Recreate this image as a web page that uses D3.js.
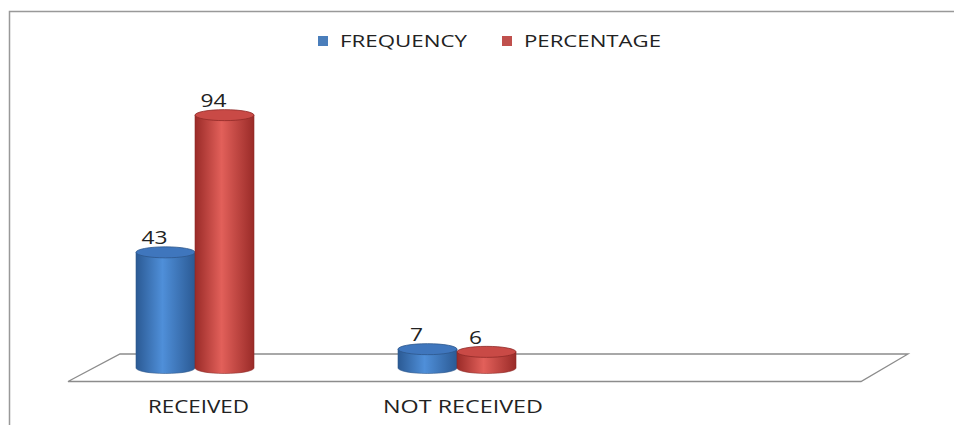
<!DOCTYPE html>
<html><head><meta charset="utf-8">
<script src="https://cdn.jsdelivr.net/npm/d3@7"></script>
<style>body{margin:0;background:#fff}svg{display:block}</style>
</head><body>
<script>
const categories = ["RECEIVED", "NOT RECEIVED"];
const seriesNames = ["FREQUENCY", "PERCENTAGE"];
const frequency = [43, 7];
const percentage = [94, 6];
const seriesValues = [frequency, percentage];

const W = 954, H = 427;
const svg = d3.select("body").append("svg").attr("width", W).attr("height", H);
const defs = svg.append("defs");
const pal = [
  {edge:"#2b5a94", mid:"#4f8fd9", top:"#3f76bd", stroke:"#2d578c"},
  {edge:"#9a2b28", mid:"#e2605a", top:"#c94a46", stroke:"#8f2a27"}
];
pal.forEach((p,i)=>{
  const g = defs.append("linearGradient").attr("id","g"+i).attr("x1","0").attr("x2","1").attr("y1","0").attr("y2","0");
  g.append("stop").attr("offset","0%").attr("stop-color",p.edge);
  g.append("stop").attr("offset","45%").attr("stop-color",p.mid);
  g.append("stop").attr("offset","100%").attr("stop-color",p.edge);
});
const font = "'Open Sans', 'DejaVu Sans', sans-serif";

// border
svg.append("path").attr("d","M9.5,425 V11.5 H954").attr("fill","none").attr("stroke","#999").attr("stroke-width",1.5);

// floor
svg.append("path").attr("d","M120,354 L908,354 L861,381.5 L68,381.5 Z")
  .attr("fill","#fff").attr("stroke","#8c8c8c").attr("stroke-width",1.3);

const x = d3.scaleBand().domain(categories).range([64, 588]);
const xs = d3.scaleBand().domain(seriesNames).range([-59, 59]);
const y = d3.scaleLinear().domain([0, 100]).range([368, 99]);
const ry = 5.5;
const catLabelW = [101, 160];
const catLabelDx = [3.5, 6];

categories.forEach((c, ci) => {
  seriesNames.forEach((s, si) => {
    const v = seriesValues[si][ci];
    const x0 = x(c) + x.bandwidth()/2 + xs(s);
    const w = xs.bandwidth();
    const rx = w/2;
    const cx = x0 + rx;
    const yt = y(v), yb = y(0);
    const p = pal[si];
    svg.append("path")
      .attr("d", `M${x0},${yt} L${x0},${yb} A${rx},${ry} 0 0 0 ${x0+w},${yb} L${x0+w},${yt} Z`)
      .attr("fill", `url(#g${si})`).attr("stroke", p.stroke).attr("stroke-width", 0.6);
    svg.append("ellipse").attr("cx", cx).attr("cy", yt).attr("rx", rx).attr("ry", ry)
      .attr("fill", p.top).attr("stroke", p.stroke).attr("stroke-width", 0.8);
    svg.append("text").attr("x", cx - 11).attr("y", yt - ry - 2.5).attr("text-anchor","middle")
      .attr("font-family", font).attr("font-size",18)
      .attr("textLength", String(v).length * 13).attr("lengthAdjust","spacingAndGlyphs")
      .attr("fill","#222").text(v);
  });
  svg.append("text").attr("x", x(c) + x.bandwidth()/2 + catLabelDx[ci]).attr("y", 413).attr("text-anchor","middle")
    .attr("font-family", font).attr("font-size",17.5)
    .attr("textLength", catLabelW[ci]).attr("lengthAdjust","spacingAndGlyphs")
    .attr("fill","#222").text(c);
});

// legend
const legX = [318, 502];
const legW = [127, 137];
seriesNames.forEach((s, si) => {
  svg.append("rect").attr("x", legX[si]).attr("y", 36).attr("width", 10).attr("height", 10)
    .attr("fill", si===0 ? "#4a7ebb" : "#c0504d");
  svg.append("text").attr("x", legX[si] + 22).attr("y", 47)
    .attr("font-family", font).attr("font-size",16.5)
    .attr("textLength", legW[si]).attr("lengthAdjust","spacingAndGlyphs")
    .attr("fill","#222").text(s);
});
</script>
</body></html>
